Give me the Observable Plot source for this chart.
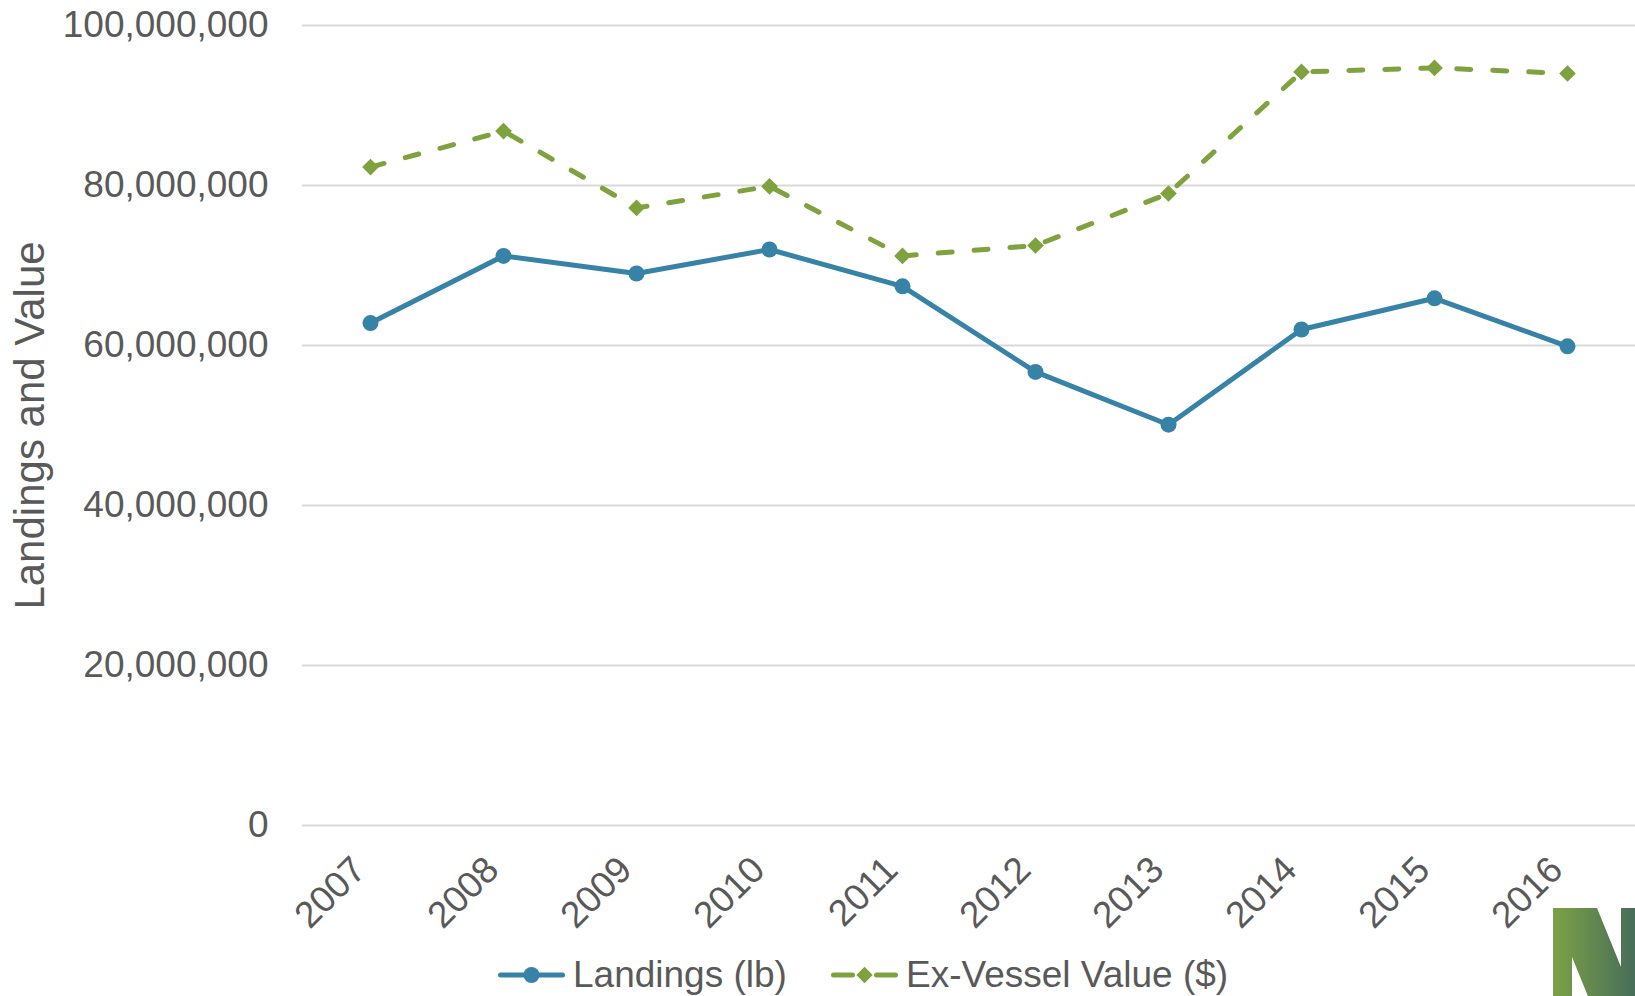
<!DOCTYPE html>
<html><head><meta charset="utf-8">
<script src="https://cdn.jsdelivr.net/npm/d3@7"></script>
<script src="https://cdn.jsdelivr.net/npm/@observablehq/plot@0.6"></script>
<style>
html,body{margin:0;padding:0;background:#fff;overflow:hidden;}
#wrap{position:relative;width:1635px;height:996px;font-family:"Liberation Sans",Arial,sans-serif;color:#595959;overflow:hidden;}
#chart{position:absolute;left:0;top:0;}
.leg{position:absolute;top:952px;height:46px;display:flex;align-items:center;font-size:37px;line-height:46px;white-space:nowrap;}
.leg svg{display:block;margin-right:7px;}
#logo{position:absolute;left:1553px;top:908px;}
</style>
</head><body>
<div id="wrap">
  <div id="chart"></div>
  <div class="leg" id="leg0" style="left:496px"></div>
  <div class="leg" id="leg1" style="left:829px"></div>
  <svg id="logo" width="82" height="88" viewBox="0 0 82 88">
    <defs><linearGradient id="lg" x1="0" x2="82" y1="0" y2="0" gradientUnits="userSpaceOnUse">
      <stop offset="0" stop-color="#7ca146"/><stop offset="1" stop-color="#476d59"/></linearGradient></defs>
    <path d="M0,0H44L68,59V0H100V130H52L19,49V130H0Z" fill="url(#lg)"/>
  </svg>
</div>
<script>
const years = ["2007","2008","2009","2010","2011","2012","2013","2014","2015","2016"];
const landings = [62.8e6, 71.2e6, 69.0e6, 72.0e6, 67.4e6, 56.7e6, 50.1e6, 62.0e6, 65.9e6, 59.9e6];
const exVesselValue = [82.3e6, 86.8e6, 77.2e6, 79.9e6, 71.2e6, 72.5e6, 79.0e6, 94.2e6, 94.7e6, 94.0e6];
const yTicks = [0, 20e6, 40e6, 60e6, 80e6, 100e6];
const seriesNames = ["Landings (lb)", "Ex-Vessel Value ($)"];
const yLabel = "Landings and Value";

const blue = "#3783a7", green = "#7da23e";
const dataL = years.map((year, i) => ({year, value: landings[i]}));
const dataV = years.map((year, i) => ({year, value: exVesselValue[i]}));

const chart = Plot.plot({
  width: 1635, height: 950,
  marginLeft: 302, marginRight: 0, marginTop: 25, marginBottom: 125,
  style: {fontFamily: "Liberation Sans, Arial, sans-serif", color: "#595959", background: "#fff", overflow: "visible"},
  x: {type: "point", domain: years, padding: 0.5, label: null},
  y: {domain: [0, 100e6], label: null},
  marks: [
    Plot.gridY(yTicks, {stroke: "#d9d9d9", strokeOpacity: 1, strokeWidth: 2}),
    Plot.axisY(yTicks, {tickSize: 0, tickPadding: 34, tickFormat: d3.format(","), fontSize: 37, label: null, fill: "#595959"}),
    Plot.axisX({tickSize: 0, tickRotate: -45, tickPadding: 38, dx: -11, fontSize: 37, label: null, fill: "#595959"}),
    Plot.text([yLabel], {frameAnchor: "left", textAnchor: "middle", dx: -272, rotate: -90, fontSize: 42, fill: "#595959", text: d => d}),
    Plot.lineY(dataV, {x: "year", y: "value", stroke: green, strokeWidth: 5, strokeDasharray: "14,22", strokeLinecap: "round"}),
    Plot.dot(dataV, {x: "year", y: "value", symbol: "diamond2", r: 7.5, fill: green, stroke: "none"}),
    Plot.lineY(dataL, {x: "year", y: "value", stroke: blue, strokeWidth: 5}),
    Plot.dot(dataL, {x: "year", y: "value", r: 8, fill: blue, stroke: "none"})
  ]
});
document.getElementById("chart").appendChild(chart);

// legend
function swatch(color, dashed, symbol) {
  const s = d3.create("svg").attr("width", 70).attr("height", 46);
  s.append("line").attr("x1", 4.5).attr("x2", 66.5).attr("y1", 23).attr("y2", 23)
    .attr("stroke", color).attr("stroke-width", 5).attr("stroke-linecap", "round")
    .attr("stroke-dasharray", dashed ? "19,24" : null);
  s.append("path").attr("transform", "translate(35.5,23)")
    .attr("d", d3.symbol(symbol, symbol === d3.symbolCircle ? Math.PI * 64 : 170)()).attr("fill", color);
  return s.node();
}
const legs = [[blue, false, d3.symbolCircle], [green, true, d3.symbolDiamond2]];
legs.forEach(([c, dsh, sym], i) => {
  const el = document.getElementById("leg" + i);
  el.appendChild(swatch(c, dsh, sym));
  const t = document.createElement("span");
  t.textContent = seriesNames[i];
  el.appendChild(t);
});
</script>
</body></html>
